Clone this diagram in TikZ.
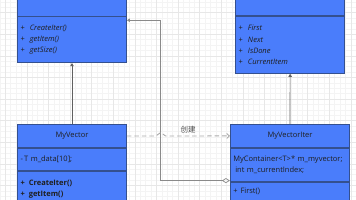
\documentclass[tikz,border=0pt]{standalone}
\usepackage{fontspec}
\setmainfont{Open Sans}
\newfontfamily\cjk{Noto Sans CJK SC}
\usetikzlibrary{arrows.meta,positioning}
\definecolor{clsfill}{HTML}{4A7DFB}
\definecolor{clsline}{HTML}{34508F}
\definecolor{gridmin}{HTML}{F4F4F4}
\definecolor{gridmaj}{HTML}{E7E7E7}
\definecolor{linkdark}{HTML}{606060}
\definecolor{linkgray}{HTML}{8A8A8A}
\definecolor{dashgray}{HTML}{ABABAB}
\newcommand{\op}[1]{+\hspace{5pt}#1}

\begin{document}
\begin{tikzpicture}[
    x=1pt, y=-1pt,
    every node/.style={font=\fontsize{7.5}{11.3}\selectfont, text=black!88},
    part/.style={draw=clsline, fill=clsfill, line width=0.8pt, inner xsep=3pt, inner ysep=0pt, text width=103pt, align=left},
    widepart/.style={part, text width=113.4pt},
    title/.style={align=center},
    gen/.style={draw=linkdark, line width=0.7pt, -{Triangle[length=3pt,width=3.4pt]}},
    agg/.style={draw=linkgray, line width=0.7pt, {Diamond[open,length=8pt,width=5pt]}-{Triangle[length=3pt,width=3.4pt]}},
    dep/.style={draw=dashgray, line width=0.9pt, dash pattern=on 4.5pt off 3pt, -{Straight Barb[length=2.5pt,width=5pt]}},
    lbl/.style={font=\cjk\fontsize{7.5}{9}\selectfont, text=black!70, inner sep=1pt}
]
\useasboundingbox (0,0) rectangle (356,200);
\clip (0,0) rectangle (356,200);

% --- background grid ---
\fill[white] (0,0) rectangle (356,200);
\begin{scope}[shift={(5.3,12.7)}]
  \draw[gridmin, line width=0.5pt, step=5.4pt] (-21.6,-21.6) grid (356,200);
  \draw[gridmaj, line width=0.6pt, step=21.6pt] (-21.6,-21.6) grid (356,200);
\end{scope}

% --- top row: abstract classes ---
\node[part, minimum height=30pt, anchor=south] (abshead) at (72,16.5) {};
\node[part, minimum height=45.8pt, below=0pt of abshead] (absops)
  {\op{\textit{CreateIter()}}\\\op{\textit{getItem()}}\\\op{\textit{getSize()}}};
\node[part, minimum height=30pt, anchor=south] (ithead) at (290.2,16.3) {};
\node[part, minimum height=56.7pt, below=0pt of ithead] (itops)
  {\op{\textit{First}}\\\op{\textit{Next}}\\\op{\textit{IsDone}}\\\op{\textit{CurrentItem}}};

% --- bottom row: concrete classes ---
\node[part, title, minimum height=22.7pt, anchor=north] (vechead) at (72,124.3) {MyVector};
\node[part, minimum height=22.7pt, below=0pt of vechead] (vecattr) {-\,T m\_data[10];};
\node[part, minimum height=34.6pt, below=0pt of vecattr] (vecops)
  {\bfseries +\hspace{4pt}CreateIter()\\+\hspace{4pt}getItem()};
\node[widepart, title, minimum height=23pt, anchor=north] (vihead) at (290,124) {MyVectorIter};
\node[widepart, minimum height=33pt, below=0pt of vihead] (viattr)
  {MyContainer<T>* m\_myvector;\\\hspace{2pt}int m\_currentIndex;};
\node[widepart, minimum height=31.4pt, below=0pt of viattr] (viops)
  {+\hspace{3pt}First()\\\strut};

% --- connectors ---
\coordinate (bend) at (160.7,20.3);
\draw[gen] (vechead) -- (absops);
\draw[gen] (vihead) -- (itops);
\draw[agg] ([yshift=1pt]viattr.south west) -| (bend) -- (bend -| absops.east);
\draw[dep] (vechead.east) -- ([xshift=-5pt]bend |- vechead.east)
  -- ([yshift=3.5pt]bend |- vechead.east) -- ([xshift=5pt]bend |- vechead.east)
  -- node[lbl, pos=0.35, above=1pt] {创建} (vihead.west);
\end{tikzpicture}
\end{document}
